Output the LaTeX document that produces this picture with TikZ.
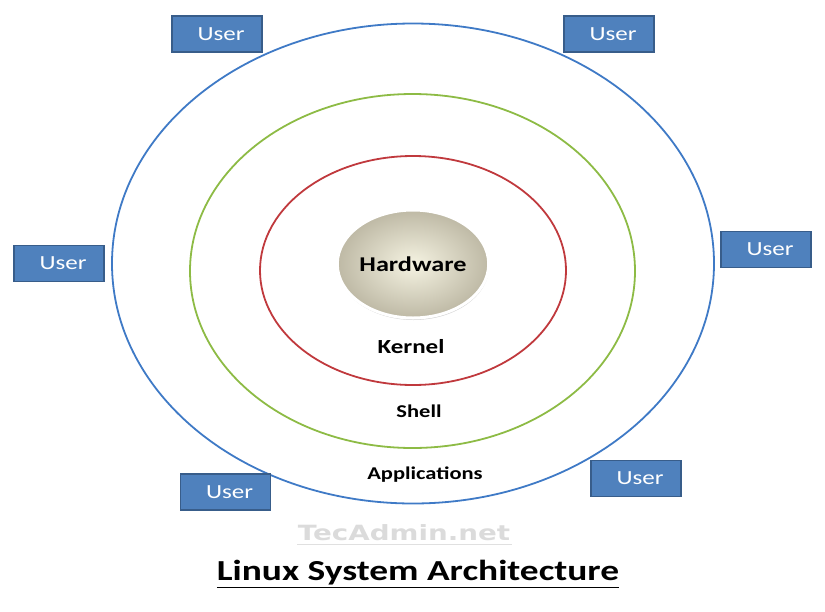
\documentclass[tikz,border=0pt]{standalone}
\usepackage{fontspec}
\setmainfont{Carlito}
\newfontfamily\wmfont{DejaVu Sans}
\usetikzlibrary{shapes.geometric,shadows}
\definecolor{ublue}{HTML}{4F81BD}
\definecolor{boxedge}{HTML}{385D8A}
\definecolor{ringblue}{HTML}{3F7AC6}
\definecolor{ringgreen}{HTML}{8DBB45}
\definecolor{ringred}{HTML}{C0393D}
\newcommand{\sx}[2][1.25]{\scalebox{#1}[1]{#2}}
\begin{document}
\begin{tikzpicture}[x=1pt,y=-1pt,
  userbox/.style={draw=boxedge, fill=ublue, line width=1.2pt, minimum width=90pt, minimum height=36pt, inner sep=0pt, text=white, font=\fontsize{20}{24}\selectfont},
  ring/.style={ellipse, draw=#1, line width=1.8pt, inner sep=0pt},
  lbl/.style={inner sep=0pt, font=\bfseries\fontsize{18}{22}\selectfont}]
\useasboundingbox (0,0) rectangle (825,611);
% rings
\node[ring=ringblue, minimum width=602pt, minimum height=480pt] (apps) at (413,263.5) {};
\node[ring=ringgreen, minimum width=445pt, minimum height=354pt] (shell) at (412.5,271) {};
\node[ring=ringred, minimum width=306pt, minimum height=229pt] (kernel) at (413,270.5) {};
% hardware
\node[ellipse, minimum width=132pt, minimum height=108pt, inner sep=0pt,
  inner color={rgb,255:red,245;green,243;blue,226}, outer color={rgb,255:red,190;green,185;blue,165},
  draw=white, line width=3pt,
  drop shadow={opacity=0.35, shadow xshift=0.5pt, shadow yshift=-2pt},
  font=\bfseries\fontsize{21}{24}\selectfont] (hw) at (413,264) {\sx{Hardware}};
% labels
\node[lbl, font=\bfseries\fontsize{20}{24}\selectfont] (kl) at (411,347) {\sx{Kernel}};
\node[lbl] (sl) at (419,411) {\sx{Shell}};
\node[lbl] (al) at (425,475) {\sx{Applications}};
% users
\node[userbox] (u1) at (217,34) {\hspace*{8pt}\sx{User}};
\node[userbox] (u2) at (609,34) {\hspace*{8pt}\sx{User}};
\node[userbox] (u3) at (766,249.5) {\hspace*{8pt}\sx{User}};
\node[userbox] (u4) at (59,263.5) {\hspace*{8pt}\sx{User}};
\node[userbox] (u5) at (225.5,492) {\hspace*{8pt}\sx{User}};
\node[userbox] (u6) at (636,478.5) {\hspace*{8pt}\sx{User}};
% watermark
\node[inner sep=0pt, text=black!14, font=\wmfont\bfseries\fontsize{21}{24}\selectfont] (wm) at (404,533) {\sx[1.32]{TecAdmin.net}};
\coordinate (wl) at (297,544);
\coordinate (wr) at (512,544);
\draw[black!12, line width=1pt] (wl) -- (wr);
% title
\node[inner sep=0pt, font=\bfseries\fontsize{29}{32}\selectfont] (title) at (418,574) {\sx[1.29]{\underline{Linux System Architecture}}};
\end{tikzpicture}
\end{document}
